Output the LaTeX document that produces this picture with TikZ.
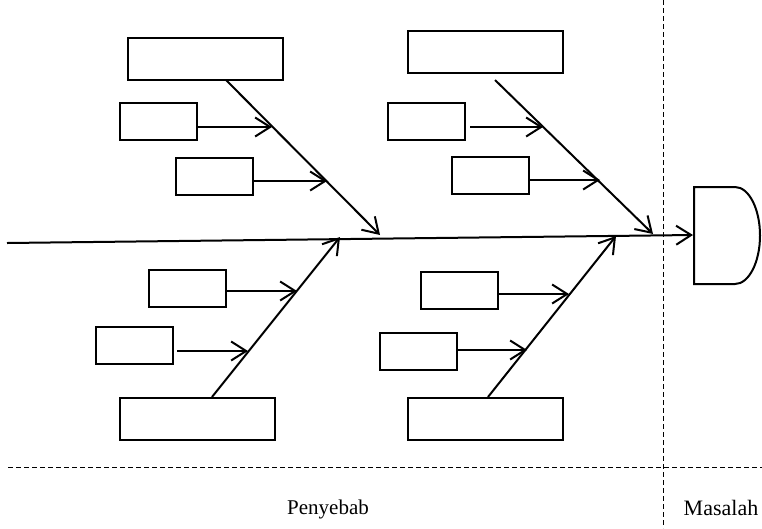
\documentclass[tikz,border=0pt]{standalone}
\usepackage{fontspec}
\setmainfont{Liberation Serif}
\usetikzlibrary{arrows.meta}
\begin{document}
\begin{tikzpicture}[x=1pt,y=-1pt,
  box/.style={draw,line width=2pt,minimum width=77pt,minimum height=37pt,inner sep=0pt,outer sep=0pt},
  bigbox/.style={box,minimum width=155pt,minimum height=42pt},
  bone/.style={line width=2pt,-{Straight Barb[length=15pt,width=19pt,line width=2pt]}},
  twig/.style={line width=2pt,-{Straight Barb[length=15pt,width=19pt,line width=2pt]}},
  divider/.style={line width=0.9pt,dash pattern=on 5pt off 3pt},
  label/.style={anchor=base}]
\useasboundingbox (0,0) rectangle (762,528);

% frame dividers
\coordinate (vTop) at (663,0);
\coordinate (vBot) at (663,528);
\coordinate (hL) at (8,467);
\coordinate (hR) at (762,467);
\draw[divider] (vTop) -- (vBot);
\draw[divider] (hL) -- (hR);

% problem head
\draw[line width=2pt] (694,187) -- (735,187) arc (-90:90:25 and 48.5) -- (694,284) -- cycle;
\coordinate (head) at (693,235);

% spine
\coordinate (tail) at (7,243);
\draw[bone] (tail) -- (head);

% points where the bones meet the spine
\coordinate (tlTip) at (380,235);
\coordinate (trTip) at (653,234);
\coordinate (blTip) at (340,237);
\coordinate (brTip) at (616,236);

% upper left bone
\node[bigbox] (tlMain) at (205.5,59) {};
\node[box] (tlA) at (158.5,121.5) {};
\node[box] (tlB) at (214.5,176) {};
\coordinate (tlStart) at (226,80);
\coordinate (tlA2) at (272,127);
\coordinate (tlB2) at (327,181);
\draw[bone] (tlStart) -- (tlTip);
\draw[twig] (tlA.east |- tlA2) -- (tlA2);
\draw[twig] (tlB.east |- tlB2) -- (tlB2);

% upper right bone
\node[bigbox] (trMain) at (485.5,51.5) {};
\node[box] (trA) at (426.5,121.5) {};
\node[box] (trB) at (490.5,175.5) {};
\coordinate (trStart) at (495,80);
\coordinate (trA2) at (543,127);
\coordinate (trB2) at (600,180);
\draw[bone] (trStart) -- (trTip);
\draw[twig] ([xshift=5pt]trA.east |- trA2) -- (trA2);
\draw[twig] (trB.east |- trB2) -- (trB2);

% lower left bone
\node[bigbox] (blMain) at (197.5,418.5) {};
\node[box] (blA) at (187,288.5) {};
\node[box] (blB) at (134.5,345.5) {};
\coordinate (blStart) at (212,397);
\coordinate (blA2) at (297,291);
\coordinate (blB2) at (248,351);
\draw[bone] (blStart) -- (blTip);
\draw[twig] (blA.east |- blA2) -- (blA2);
\draw[twig] ([xshift=4pt]blB.east |- blB2) -- (blB2);

% lower right bone
\node[bigbox] (brMain) at (485.5,418.5) {};
\node[box] (brA) at (459.5,290) {};
\node[box] (brB) at (418.5,351) {};
\coordinate (brStart) at (488,397);
\coordinate (brA2) at (569,294);
\coordinate (brB2) at (527,350);
\draw[bone] (brStart) -- (brTip);
\draw[twig] (brA.east |- brA2) -- (brA2);
\draw[twig] (brB.east |- brB2) -- (brB2);

% captions
\node[label,font=\fontsize{21}{24}\selectfont] (cause) at (328,514) {Penyebab};
\node[label,font=\fontsize{22}{25}\selectfont] (problem) at (721,515) {Masalah};
\end{tikzpicture}
\end{document}
